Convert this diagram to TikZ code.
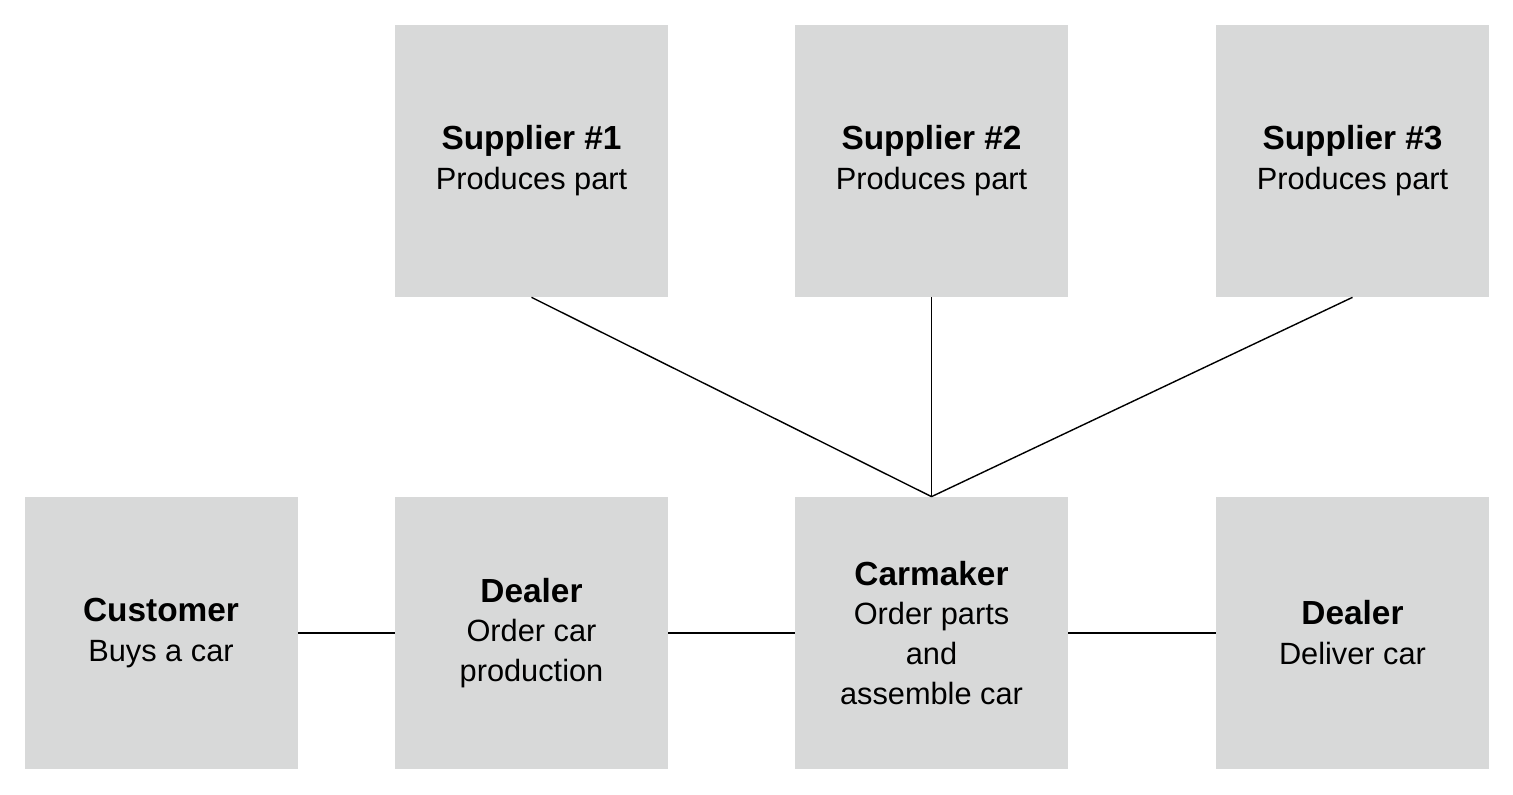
\documentclass[tikz,border=0pt]{standalone}
\usepackage{fontspec}
\setmainfont{Liberation Sans}
\definecolor{boxgray}{RGB}{216,217,217}
\newcommand{\stagehead}[1]{{\fontsize{19}{22.7}\selectfont\bfseries #1}}
\tikzset{
  stage/.style={fill=boxgray, minimum width=5.46cm, minimum height=5.44cm,
    align=center, inner sep=0pt, font=\fontsize{17.5}{22.7}\selectfont},
  link/.style={line width=0.8pt}
}
\begin{document}
\begin{tikzpicture}
  \useasboundingbox (0,0) rectangle (30.26,15.88);

  % draw suppliers
  \node[stage] (sup1) at (10.63,12.66) {\stagehead{Supplier \#1}\\Produces part};
  \node[stage] (sup2) at (18.63,12.66) {\stagehead{Supplier \#2}\\Produces part};
  \node[stage] (sup3) at (27.05,12.66) {\stagehead{Supplier \#3}\\Produces part};

  % draw chain
  \node[stage] (customer) at ( 3.22,3.22) {\stagehead{Customer}\\Buys a car};
  \node[stage] (dealer)   at (10.63,3.22) {\stagehead{Dealer}\\Order car\\production};
  \node[stage] (carmaker) at (18.63,3.22) {\stagehead{Carmaker}\\Order parts\\and\\assemble car};
  \node[stage] (deliver)  at (27.05,3.22) {\stagehead{Dealer}\\Deliver car};

  % draw links
  \foreach \s in {sup1,sup2,sup3}
  \draw[link] (\s.south) -- (carmaker.north);
  \draw[link] (customer.east) -- (dealer.west);
  \draw[link] (dealer.east) -- (carmaker.west);
  \draw[link] (carmaker.east) -- (deliver.west);
\end{tikzpicture}
\end{document}
